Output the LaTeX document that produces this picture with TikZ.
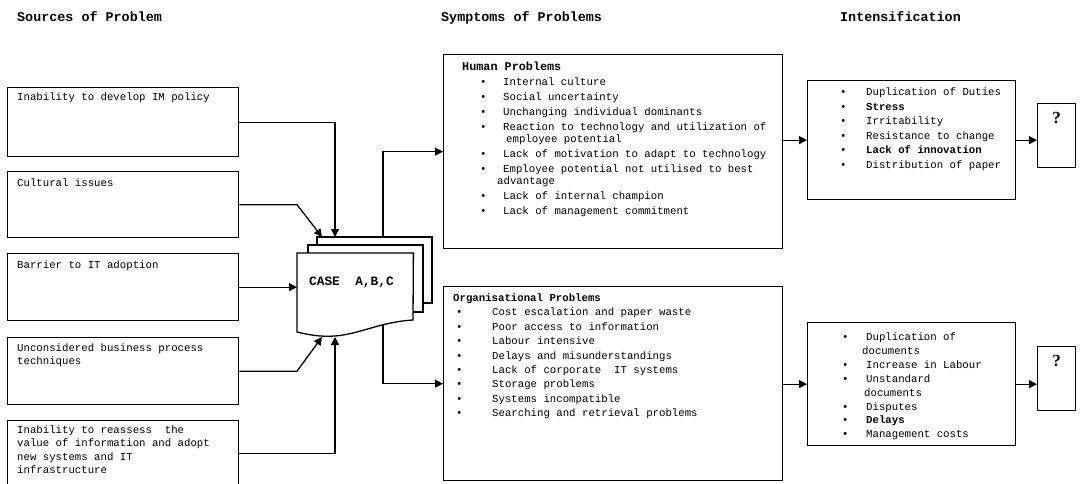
\documentclass[tikz,border=0pt]{standalone}
\usepackage{fontspec}
\setmonofont{Liberation Mono}
\newfontfamily\qmarkfont{Liberation Serif}
\usetikzlibrary{arrows.meta}
\newcommand{\myitem}[3]{\hspace*{#1}\makebox[#2][l]{•}#3}
\newcommand{\boxlines}[2]{\parbox[t]{330pt}{\fontsize{10.7}{#1}\selectfont #2}}
\begin{document}
\begin{tikzpicture}[x=1pt,y=-1pt,
  frame/.style={draw,line width=1.3pt,inner sep=0pt,anchor=north west},
  body/.style={inner sep=0pt,anchor=base west,font=\ttfamily},
  head/.style={inner sep=0pt,anchor=base west,font=\ttfamily\bfseries\fontsize{13.4}{16}\selectfont},
  conn/.style={line width=1.3pt},
  arr/.style={conn,-{Triangle[length=8pt,width=8pt]}},
  page/.style={draw,line width=1.3pt},
  qmark/.style={inner sep=0pt,font=\qmarkfont\bfseries\fontsize{17}{20}\selectfont}
]
\useasboundingbox (0,0) rectangle (1080,483);
\fill[white] (0,0) rectangle (1080,483);

% titles
\node[head] (t1) at (17,21.5) {Sources of Problem};
\node[head] (t2) at (441,21.5) {Symptoms of Problems};
\node[head] (t3) at (840,21.5) {Intensification};

% left boxes
\node[frame,minimum width=231pt,minimum height=69pt] (b1) at (7,87) {};
\node[frame,minimum width=231pt,minimum height=66pt] (b2) at (7,171) {};
\node[frame,minimum width=231pt,minimum height=67pt] (b3) at (7,253) {};
\node[frame,minimum width=231pt,minimum height=67pt] (b4) at (7,337) {};
\node[frame,minimum width=231pt,minimum height=66pt] (b5) at (7,420) {};

\node[body] (l1) at (17,100.5) {\boxlines{13pt}{Inability to develop IM policy}};
\node[body] (l2) at (17,186.5) {\boxlines{13pt}{Cultural issues}};
\node[body] (l3) at (17,268.5) {\boxlines{13pt}{Barrier to IT adoption}};
\node[body] (l4) at (17,351.5) {\boxlines{13pt}{Unconsidered business process\\techniques}};
\node[body] (l5) at (17,433.5) {\boxlines{13.3pt}{Inability to reassess\ \ the\\value of information and adopt\\new systems and IT\\infrastructure}};

% CASE document stack
\node[inner sep=0pt,anchor=north west,minimum width=116pt,minimum height=79pt] (casep) at (297,253) {};
\draw[page] (317,245) -- (317,237) -- (432,237) -- (432,303) -- (423,303);
\draw[page] (308,253) -- (308,245) -- (423,245) -- (423,312) -- (413,312);
\draw[page] (casep.north west) -- (casep.north east) -- (413,320)
  .. controls (380,322) and (360,334) .. (335,336)
  .. controls (320,337) and (310,335) .. (297,332) -- cycle;
\node[inner sep=0pt,anchor=base west,font=\ttfamily\bfseries\fontsize{12.8}{14}\selectfont] (ct) at (309,285.5) {CASE\ \ A,B,C};

\coordinate (in1) at (335,237);
\coordinate (in2) at (322,237);
\coordinate (in4) at (322,337);
\coordinate (in5) at (335,337);
\coordinate (out1) at (383,237);
\coordinate (out2) at (383,324);

% symptom boxes
\node[frame,minimum width=339pt,minimum height=194pt] (hum) at (443,54) {};
\node[body] (hx) at (462,70) {\boxlines{15pt}{%
\textbf{\fontsize{11.8}{15}\selectfont Human Problems}\\
\myitem{17.8pt}{23.2pt}{Internal culture}\\
\myitem{17.8pt}{23.2pt}{Social uncertainty}\\
\myitem{17.8pt}{23.2pt}{Unchanging individual dominants}\\
\myitem{17.8pt}{23.2pt}{Reaction to technology and utilization of}\\[-3pt]
\hspace*{44pt}employee potential\\
\myitem{17.8pt}{23.2pt}{Lack of motivation to adapt to technology}\\
\myitem{17.8pt}{23.2pt}{Employee potential not utilised to best}\\[-3pt]
\hspace*{35pt}advantage\\
\myitem{17.8pt}{23.2pt}{Lack of internal champion}\\
\myitem{17.8pt}{23.2pt}{Lack of management commitment}}};

\node[frame,minimum width=339pt,minimum height=194pt] (org) at (443,286) {};
\node[body] (ox) at (453,301.5) {\boxlines{14.4pt}{%
\textbf{Organisational Problems}\\
\myitem{2.8pt}{36.2pt}{Cost escalation and paper waste}\\
\myitem{2.8pt}{36.2pt}{Poor access to information}\\
\myitem{2.8pt}{36.2pt}{Labour intensive}\\
\myitem{2.8pt}{36.2pt}{Delays and misunderstandings}\\
\myitem{2.8pt}{36.2pt}{Lack of corporate\ \ IT systems}\\
\myitem{2.8pt}{36.2pt}{Storage problems}\\
\myitem{2.8pt}{36.2pt}{Systems incompatible}\\
\myitem{2.8pt}{36.2pt}{Searching and retrieval problems}}};

% intensification boxes
\node[frame,minimum width=208pt,minimum height=119pt] (int1) at (807,80) {};
\node[body] (ix1) at (839.8,95.5) {\boxlines{14.6pt}{%
\myitem{0pt}{26.2pt}{Duplication of Duties}\\
\myitem{0pt}{26.2pt}{\textbf{Stress}}\\
\myitem{0pt}{26.2pt}{Irritability}\\
\myitem{0pt}{26.2pt}{Resistance to change}\\
\myitem{0pt}{26.2pt}{\textbf{Lack of innovation}}\\
\myitem{0pt}{26.2pt}{Distribution of paper}}};

\node[frame,minimum width=208pt,minimum height=123pt] (int2) at (807,322) {};
\node[body] (ix2) at (841.8,340.5) {\boxlines{13.9pt}{%
\myitem{0pt}{24.2pt}{Duplication of}\\
\hspace*{20.2pt}documents\\
\myitem{0pt}{24.2pt}{Increase in Labour}\\
\myitem{0pt}{24.2pt}{Unstandard}\\
\hspace*{22.2pt}documents\\
\myitem{0pt}{24.2pt}{Disputes}\\
\myitem{0pt}{24.2pt}{\textbf{Delays}}\\
\myitem{0pt}{24.2pt}{Management costs}}};

% question boxes
\node[frame,minimum width=38pt,minimum height=64pt] (q1) at (1037,103) {};
\node[qmark] (qm1) at ([yshift=-15pt]q1.north) {?};
\node[frame,minimum width=38pt,minimum height=64pt] (q2) at (1037,346) {};
\node[qmark] (qm2) at ([yshift=-15pt]q2.north) {?};

% connectors into CASE
\draw[arr] (b1.east) -| (in1);
\draw[arr] (b2.east) -- (b2.east -| casep.west) -- (in2);
\draw[arr] (b3.east) -- (b3.east -| casep.west);
\draw[arr] (b4.east) -- (b4.east -| casep.west) -- (in4);
\draw[arr] (b5.east) -| (in5);

% connectors out of CASE
\draw[arr] (out1) |- (hum.west);
\draw[arr] (out2) |- (org.west);

% intensification connectors
\draw[arr] (int1.west -| hum.east) -- (int1.west);
\draw[arr] (int1.east) -- (int1.east -| q1.west);
\draw[arr] (int2.west -| org.east) -- (int2.west);
\draw[arr] (int2.east) -- (int2.east -| q2.west);
\end{tikzpicture}
\end{document}
